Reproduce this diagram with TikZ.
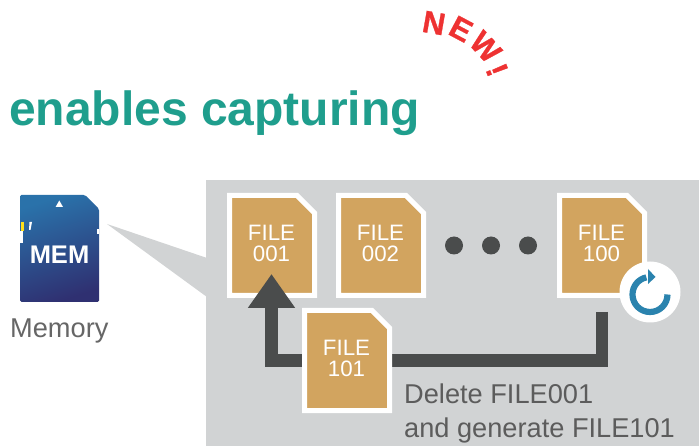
\documentclass[tikz,border=0pt]{standalone}
\usepackage{fontspec}
\setmainfont{Liberation Sans}
\usetikzlibrary{arrows.meta}
\definecolor{panelgrey}{HTML}{D1D3D4}
\definecolor{tan}{HTML}{D2A45F}
\definecolor{darkconn}{HTML}{4A4C4C}
\definecolor{teal}{HTML}{1F9E8D}
\definecolor{newred}{HTML}{EE3232}
\definecolor{bluearc}{HTML}{2A83AE}
\definecolor{txtgrey}{HTML}{666666}
\definecolor{sdtop}{HTML}{2A72AA}
\definecolor{sdbottom}{HTML}{2F3071}
\tikzset{
  filebody/.style={fill=tan,draw=white,line width=5pt,miter limit=10},
  filetext/.style={text=white,align=center,inner sep=0pt,font=\fontsize{22.3}{20.4}\selectfont},
  conn/.style={draw=darkconn,line width=12.5pt,miter limit=10},
  greytext/.style={text=txtgrey,inner sep=0pt,anchor=base west},
  dotmark/.style={circle,fill=darkconn,minimum size=18pt,inner sep=0pt},
  newletter/.style={text=newred,inner sep=0pt,font=\fontsize{31}{31}\bfseries\selectfont\addfontfeature{FakeBold=1}},
}
\newcommand{\filecard}[5]{% name, left, top, line1, line2
  \path[filebody] (#2+2.5,-#3-2.5) -- (#2+70,-#3-2.5) -- (#2+87.5,-#3-20) -- (#2+87.5,-#3-102.5) -- (#2+2.5,-#3-102.5) -- cycle;
  \node[filetext] (#1) at (#2+44.5,-#3-50.5) {#4\\#5};
}
\begin{document}
\begin{tikzpicture}[x=1pt,y=1pt]
\useasboundingbox (0,0) rectangle (699,-446);
\fill[white] (0,0) rectangle (699,-446);
% panel and callout
\fill[panelgrey] (206,-180) rectangle (699,-446);
\fill[panelgrey] (107,-224) -- (207,-258) -- (207,-297) -- cycle;
% title
\node[text=teal,inner sep=0pt,anchor=base west,font=\fontsize{48}{50}\bfseries\selectfont] (title) at (9,-125.5) {enables capturing};
% NEW!
\node[newletter,rotate=-10] (n1) at (434,-23) {N};
\node[newletter,rotate=-28] (n2) at (461,-29) {E};
\node[newletter,rotate=-47] (n3) at (485.5,-47) {W};
\node[newletter,rotate=-68] (n4) at (497,-70) {!};
% memory card
\shade[top color=sdtop,bottom color=sdbottom,shading angle=18,rounded corners=1.5pt]
  (20,-195) -- (85,-195) -- (99,-209) -- (99,-302) -- (20,-302) -- cycle;
\fill[white] (59.3,-200.5) -- (63,-207) -- (55.6,-207) -- cycle;
\fill[yellow!80!orange!90!white] (20.5,-222) rectangle (24,-231);
\fill[white] (20,-231) rectangle (23,-243.5);
\fill[white] (29.5,-222) -- (32,-222) -- (30.5,-230) -- (29,-230) -- cycle;
\fill[white] (96.5,-229) rectangle (99,-234);
\node[text=white,inner sep=0pt,anchor=base,font=\fontsize{25.5}{25}\bfseries\selectfont] (mem) at (59.5,-264) {MEM};
\node[greytext,font=\fontsize{27.2}{27}\selectfont] (memory) at (10,-337.5) {Memory};
% files
\filecard{f001}{227}{193}{FILE}{001}
\filecard{f002}{336}{193}{FILE}{002}
\filecard{f100}{557}{193}{FILE}{100}
% dots
\node[dotmark] (d1) at (454,-245.5) {};
\node[dotmark] (d2) at (491,-245.5) {};
\node[dotmark] (d3) at (528,-245.5) {};
% connector
\coordinate (cstart) at (602,-312);
\coordinate (ctip) at (271.5,-274);
\draw[conn,-{Triangle[length=34pt,width=45pt]}] (cstart) |- (ctip |- 0,-360.5) -- (ctip);
\filecard{f101}{302}{308}{FILE}{101}
% reload badge
\node[circle,fill=white,minimum size=61pt,inner sep=0pt] (badge) at (650,-292) {};
\draw[bluearc,line width=6.2pt] (667.5,-294.5) arc[start angle=0,end angle=-258,radius=17.5];
\fill[bluearc] (648,-269) -- (655.5,-277) -- (648,-284) -- cycle;
% caption
\node[greytext,text=txtgrey!90!black,font=\fontsize{27.2}{27}\selectfont] (cap1) at (404,-403.5) {Delete FILE001};
\node[greytext,text=txtgrey!90!black,font=\fontsize{27.2}{27}\selectfont] (cap2) at (404,-437.5) {and generate FILE101};
\end{tikzpicture}
\end{document}
